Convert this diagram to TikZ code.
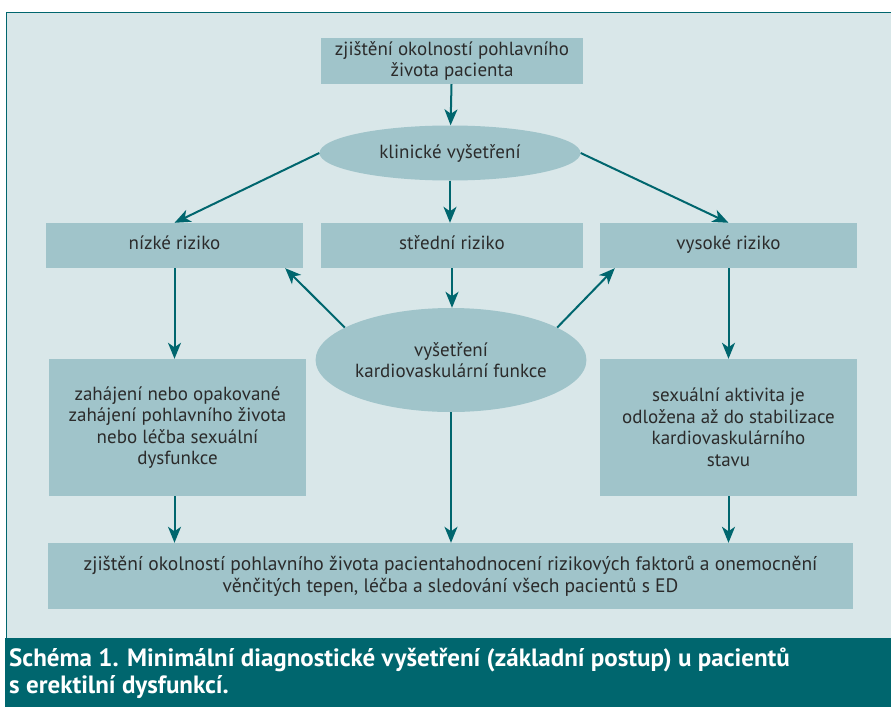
\documentclass[tikz,border=0pt]{standalone}
\usepackage{fontspec}
\setmainfont{PT Sans}
\usetikzlibrary{arrows.meta, shapes.geometric}

\definecolor{panelbg}{HTML}{D9E7E9}
\definecolor{boxfill}{HTML}{A0C4CA}
\definecolor{tealdark}{HTML}{00666E}
\definecolor{textgrey}{HTML}{2B2B2B}

\begin{document}
\begin{tikzpicture}[
    x=1pt, y=-1pt,
    font=\fontsize{19}{21.5}\selectfont,
    >= {Stealth[length=16pt, width=13pt, inset=4.5pt]},
    stepbox/.style={rectangle, fill=boxfill, text=textgrey, align=center, inner sep=0pt},
    riskbox/.style={stepbox, minimum height=45, text height=1.5ex, text depth=0pt},
    checkoval/.style={ellipse, fill=boxfill, text=textgrey, align=center, inner sep=0pt},
    flow/.style={->, draw=tealdark, line width=2pt},
    ]

    % page and panel
    \useasboundingbox (0,0) rectangle (891,707);
    \fill[white] (0,0) rectangle (891,707);
    \draw[fill=panelbg, draw=tealdark, line width=1pt] (6,12) rectangle (893,640);
    \fill[tealdark] (5,638) rectangle (891,707);

    % ==========================================
    % Nodes
    % ==========================================
    \node[stepbox, minimum width=262, minimum height=46] (anamneza) at (452,61) {zjištění okolností pohlavního\\života pacienta};

    \node[checkoval, minimum width=261, minimum height=55] (klinicke) at (450,153) {klinické vyšetření};

    \node[riskbox, minimum width=257] (nizke) at (174.5,245.5) {nízké riziko};
    \node[riskbox, minimum width=262] (stredni) at (452,245.5) {střední riziko};
    \node[riskbox, minimum width=257] (vysoke) at (728.5,245.5) {vysoké riziko};

    \node[checkoval, minimum width=262, minimum height=104] (kardio) at (451,360) {vyšetření\\kardiovaskulární funkce};

    \node[stepbox, minimum width=257, minimum height=137] (zahajeni) at (177.5,427.5) {zahájení nebo opakované\\zahájení pohlavního života\\nebo léčba sexuální\\dysfunkce};
    \node[stepbox, minimum width=257, minimum height=137] (odlozeni) at (728.5,427.5) {sexuální aktivita je\\odložena až do stabilizace\\kardiovaskulárního\\stavu};

    \node[stepbox, minimum width=805, minimum height=66, font=\fontsize{19.5}{22}\selectfont] (sledovani) at (450.5,576) {zjištění okolností pohlavního života pacientahodnocení rizikových faktorů a onemocnění\\věnčitých tepen, léčba a sledování všech pacientů s ED};

    % ==========================================
    % Arrows
    % ==========================================
    \draw[flow] (anamneza) -- (klinicke);
    \draw[flow] (klinicke.west) -- (nizke.north);
    \draw[flow] (klinicke.east) -- (vysoke.north);
    \draw[flow] (klinicke.south) -- (klinicke.south |- stredni.north);

    \draw[flow] (stredni.south) -- (stredni.south |- kardio.north);
    \draw[flow] (kardio.163) -- ([xshift=-18pt]nizke.south east);
    \draw[flow] (kardio.17) -- ([xshift=15pt]vysoke.south west);

    \draw[flow] (nizke.south) -- (nizke.south |- zahajeni.north);
    \draw[flow] (vysoke.south) -- (vysoke.south |- odlozeni.north);

    \draw[flow] (nizke.south |- zahajeni.south) -- (nizke.south |- sledovani.north);
    \draw[flow] (kardio.south) -- (kardio.south |- sledovani.north);
    \draw[flow] (odlozeni.south) -- (odlozeni.south |- sledovani.north);

    % ==========================================
    % Caption
    % ==========================================
    \node[anchor=north west, text=white, align=left, inner sep=0pt, font=\fontsize{25}{26.5}\selectfont\bfseries] (popis) at (9,648) {Schéma 1. Minimální diagnostické vyšetření (základní postup) u pacientů\\s erektilní dysfunkcí.};

\end{tikzpicture}
\end{document}
